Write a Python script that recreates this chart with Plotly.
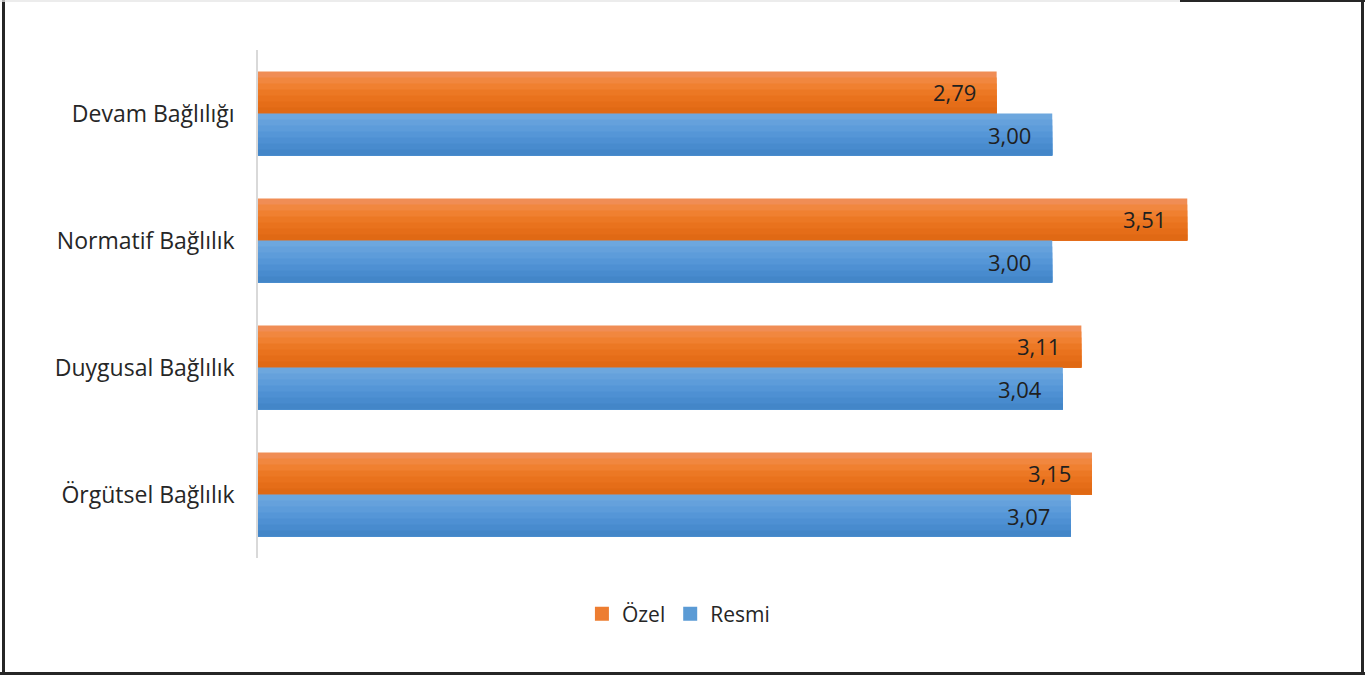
import plotly.graph_objects as go

# Kategoriler (yukarıdan aşağıya) ve seri değerleri
categories = ["Devam Bağlılığı", "Normatif Bağlılık", "Duygusal Bağlılık", "Örgütsel Bağlılık"]
ozel = [2.79, 3.51, 3.11, 3.15]
resmi = [3.00, 3.00, 3.04, 3.07]

series_names = ["Özel", "Resmi"]
# gradient colour stops (top -> bottom) for each series
orange_stops = ["#F08D55", "#F1873F", "#F08030", "#EC7824", "#E9721D", "#E56D18", "#E06914"]
blue_stops = ["#6DA7DE", "#65A1DC", "#5D9CDA", "#5596D7", "#4E90D3", "#488BCE", "#4386C8"]

W, H = 1368, 676
L, R, T, B = 258, 51, 50, 118
BAR_H = 0.331
N = len(orange_stops)

fig = go.Figure()


def fmt(v):
    return f"{v:.2f}".replace(".", ",")


def add_series(values, stops, base_offset, name, legend_color):
    h = BAR_H / N
    # each strip runs from its top edge to the bottom of the bar, later strips
    # covering earlier ones, so the shading has no seams
    for i, c in enumerate(stops):
        fig.add_trace(go.Bar(
            y=categories, x=values, orientation="h",
            offset=base_offset + i * h, width=BAR_H - i * h,
            marker=dict(color=c, line=dict(width=0)),
            showlegend=False, hoverinfo="skip",
        ))
    # legend entry
    fig.add_trace(go.Bar(
        y=[categories[0]], x=[None], orientation="h",
        marker=dict(color=legend_color, line=dict(color=legend_color, width=2)),
        name=name, showlegend=True,
    ))
    # value labels near the end of each bar
    for cat, v in zip(categories, values):
        fig.add_annotation(
            x=v, y=cat, xref="x", yref="y",
            text=fmt(v), showarrow=False, xanchor="right",
            xshift=-19, yshift=-(base_offset + BAR_H / 2) * (H - T - B) / len(categories),
            font=dict(family="Open Sans", size=22, color="#1F1F1F"),
        )


add_series(ozel, orange_stops, -BAR_H, series_names[0], "#ED7D31")
add_series(resmi, blue_stops, 0.0, series_names[1], "#5B9BD5")

fig.update_layout(
    width=W, height=H,
    margin=dict(l=L, r=R, t=T, b=B),
    paper_bgcolor="white", plot_bgcolor="white",
    barmode="overlay",
    font=dict(family="Open Sans", size=22, color="#262626"),
    showlegend=True,
    legend=dict(
        orientation="h", x=0.397, xanchor="center",
        y=(T + (H - T - B) - 614) / (H - T - B), yanchor="middle",
        font=dict(family="Open Sans", size=21, color="#262626"),
        itemwidth=30, traceorder="normal",
    ),
    xaxis=dict(range=[0, 4], showgrid=False, zeroline=False,
               showticklabels=False, showline=False, ticks=""),
    yaxis=dict(categoryorder="array", categoryarray=categories,
               autorange="reversed", showgrid=False, zeroline=False,
               showline=True, linecolor="#D9D9D9", linewidth=1.5,
               ticks="outside", ticklen=17, tickcolor="rgba(0,0,0,0)",
               tickfont=dict(family="Open Sans", size=23, color="#262626")),
)

# outer frame
pw, ph = W - L - R, H - T - B


def px(x):
    return (x - L) / pw


def py(y):
    return (H - B - y) / ph


frame = [
    (3.5, 0, 3.5, 675, "#262626", 3),
    (0, 673.5, 1365, 673.5, "#262626", 3),
    (1362.5, 0, 1362.5, 675, "#262626", 3),
    (0, 1, 1180, 1, "#E6E6E6", 1.5),
    (1180, 1, 1365, 1, "#262626", 2),
]
for x0, y0, x1, y1, c, w in frame:
    fig.add_shape(type="line", xref="paper", yref="paper",
                  x0=px(x0), y0=py(y0), x1=px(x1), y1=py(y1),
                  line=dict(color=c, width=w))

fig.write_html("out.html")
